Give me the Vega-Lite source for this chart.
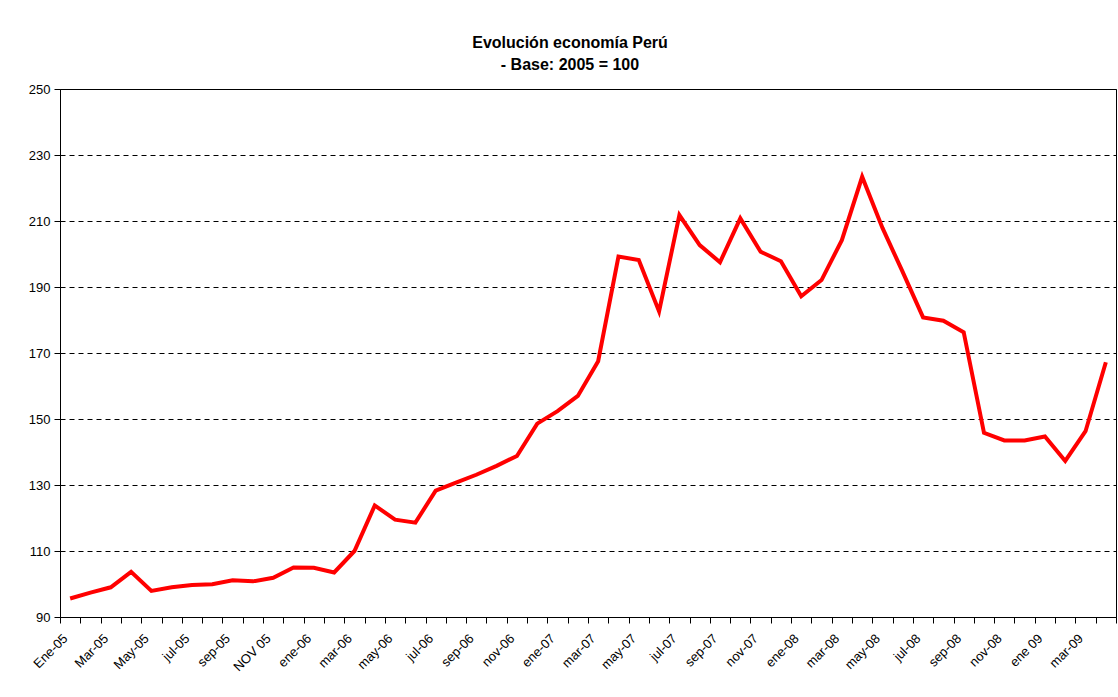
{
  "$schema": "https://vega.github.io/schema/vega-lite/v6.json",
  "autosize": {"type": "none"},
  "width": 1056,
  "height": 528,
  "padding": {"left": 60, "top": 89, "right": 2, "bottom": 80},
  "background": "white",
  "title": {
    "text": ["Evolución economía Perú", "- Base: 2005 = 100"],
    "font": "Liberation Sans",
    "fontSize": 16,
    "fontWeight": "bold",
    "color": "black",
    "lineHeight": 22,
    "anchor": "middle",
    "dx": -18,
    "offset": 10
  },
  "config": {
    "view": {"stroke": "#000000", "strokeWidth": 1},
    "axis": {
      "labelFont": "Liberation Sans",
      "labelFontSize": 13,
      "labelColor": "black",
      "domainColor": "black",
      "tickColor": "black",
      "tickSize": 6,
      "title": null
    }
  },
  "data": {
    "values": [
      {"mes": "Ene-05", "indice": 95.6},
      {"mes": "Feb-05", "indice": 97.4},
      {"mes": "Mar-05", "indice": 99.0},
      {"mes": "Abr-05", "indice": 103.7},
      {"mes": "May-05", "indice": 97.9},
      {"mes": "Jun-05", "indice": 99.0},
      {"mes": "jul-05", "indice": 99.7},
      {"mes": "ago-05", "indice": 99.9},
      {"mes": "sep-05", "indice": 101.1},
      {"mes": "oct-05", "indice": 100.8},
      {"mes": "NOV 05", "indice": 101.9},
      {"mes": "dic-05", "indice": 105.0},
      {"mes": "ene-06", "indice": 104.9},
      {"mes": "feb-06", "indice": 103.5},
      {"mes": "mar-06", "indice": 110.0},
      {"mes": "abr-06", "indice": 123.8},
      {"mes": "may-06", "indice": 119.5},
      {"mes": "jun-06", "indice": 118.6},
      {"mes": "jul-06", "indice": 128.3},
      {"mes": "ago-06", "indice": 130.7},
      {"mes": "sep-06", "indice": 133.1},
      {"mes": "oct-06", "indice": 135.8},
      {"mes": "nov-06", "indice": 138.8},
      {"mes": "dic-06", "indice": 148.6},
      {"mes": "ene-07", "indice": 152.4},
      {"mes": "feb-07", "indice": 157.0},
      {"mes": "mar-07", "indice": 167.5},
      {"mes": "abr-07", "indice": 199.2},
      {"mes": "may-07", "indice": 198.2},
      {"mes": "jun-07", "indice": 182.6},
      {"mes": "jul-07", "indice": 211.8},
      {"mes": "ago-07", "indice": 202.7},
      {"mes": "sep-07", "indice": 197.5},
      {"mes": "oct-07", "indice": 210.8},
      {"mes": "nov-07", "indice": 200.7},
      {"mes": "dic-07", "indice": 197.8},
      {"mes": "ene-08", "indice": 187.2},
      {"mes": "feb-08", "indice": 192.1},
      {"mes": "mar-08", "indice": 204.2},
      {"mes": "abr-08", "indice": 223.4},
      {"mes": "may-08", "indice": 207.9},
      {"mes": "jun-08", "indice": 194.5},
      {"mes": "jul-08", "indice": 180.8},
      {"mes": "ago-08", "indice": 179.8},
      {"mes": "sep-08", "indice": 176.3},
      {"mes": "oct-08", "indice": 145.8},
      {"mes": "nov-08", "indice": 143.5},
      {"mes": "dic-08", "indice": 143.5},
      {"mes": "ene 09", "indice": 144.7},
      {"mes": "feb-09", "indice": 137.3},
      {"mes": "mar-09", "indice": 146.3},
      {"mes": "abr-09", "indice": 167.2}
    ]
  },
  "mark": {"type": "line", "color": "#FF0000", "strokeWidth": 4, "strokeJoin": "miter"},
  "encoding": {
    "x": {
      "field": "mes",
      "type": "nominal",
      "sort": null,
      "scale": {"type": "band", "paddingInner": 0, "paddingOuter": 0},
      "axis": {
        "labelAngle": -45,
        "labelAlign": "right",
        "labelBaseline": "middle",
        "labelOverlap": false,
        "labelPadding": 13,
        "labelOffset": -5,
        "tickBand": "extent",
        "grid": false,
        "labelExpr": "round(datum.index * 51) % 2 == 0 ? datum.value : ''"
      }
    },
    "y": {
      "field": "indice",
      "type": "quantitative",
      "scale": {"domain": [90, 250], "nice": false, "zero": false},
      "axis": {
        "values": [90, 110, 130, 150, 170, 190, 210, 230, 250],
        "grid": true,
        "gridColor": "black",
        "gridDash": [5, 4],
        "gridWidth": 1,
        "labelPadding": 4
      }
    }
  }
}
